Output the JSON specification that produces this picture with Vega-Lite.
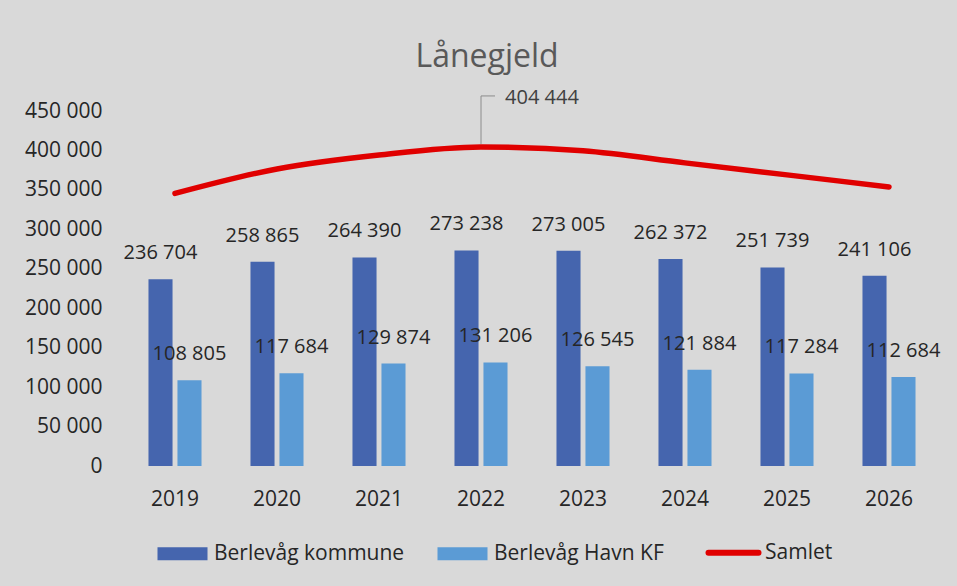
{
  "$schema": "https://vega.github.io/schema/vega-lite/v6.json",
  "width": 816,
  "height": 355,
  "autosize": {"type": "none"},
  "padding": {"left": 124, "top": 111, "right": 17, "bottom": 120},
  "background": "#d9d9d9",
  "config": {
    "view": {"stroke": null},
    "font": "Open Sans",
    "locale": {"number": {"decimal": ",", "thousands": " ", "grouping": [3], "currency": ["", ""]}}
  },
  "title": {
    "text": "Lånegjeld",
    "font": "Open Sans",
    "fontSize": 32,
    "fontWeight": "normal",
    "color": "#595959",
    "anchor": "middle",
    "frame": "group",
    "baseline": "alphabetic",
    "offset": -11,
    "dx": -45
  },
  "datasets": {
    "bars": [
      {"year": "2019", "series": "Berlevåg kommune", "value": 236704},
      {"year": "2019", "series": "Berlevåg Havn KF", "value": 108805},
      {"year": "2020", "series": "Berlevåg kommune", "value": 258865},
      {"year": "2020", "series": "Berlevåg Havn KF", "value": 117684},
      {"year": "2021", "series": "Berlevåg kommune", "value": 264390},
      {"year": "2021", "series": "Berlevåg Havn KF", "value": 129874},
      {"year": "2022", "series": "Berlevåg kommune", "value": 273238},
      {"year": "2022", "series": "Berlevåg Havn KF", "value": 131206},
      {"year": "2023", "series": "Berlevåg kommune", "value": 273005},
      {"year": "2023", "series": "Berlevåg Havn KF", "value": 126545},
      {"year": "2024", "series": "Berlevåg kommune", "value": 262372},
      {"year": "2024", "series": "Berlevåg Havn KF", "value": 121884},
      {"year": "2025", "series": "Berlevåg kommune", "value": 251739},
      {"year": "2025", "series": "Berlevåg Havn KF", "value": 117284},
      {"year": "2026", "series": "Berlevåg kommune", "value": 241106},
      {"year": "2026", "series": "Berlevåg Havn KF", "value": 112684}
    ],
    "totals": [
      {"year": "2019", "value": 345509},
      {"year": "2020", "value": 376549},
      {"year": "2021", "value": 394264},
      {"year": "2022", "value": 404444},
      {"year": "2023", "value": 399550},
      {"year": "2024", "value": 384256},
      {"year": "2025", "value": 369023},
      {"year": "2026", "value": 353790}
    ]
  },
  "encoding": {
    "x": {
      "field": "year",
      "type": "nominal",
      "scale": {"paddingInner": 0.48, "paddingOuter": 0.24},
      "axis": {
        "title": null,
        "labelAngle": 0,
        "ticks": false,
        "domain": false,
        "labelPadding": 22,
        "labelFontSize": 21,
        "labelColor": "#262626",
        "labelFont": "Open Sans"
      }
    },
    "y": {
      "field": "value",
      "type": "quantitative",
      "scale": {"domain": [0, 450000], "nice": false},
      "axis": {
        "title": null,
        "ticks": false,
        "domain": false,
        "grid": false,
        "labelPadding": 22,
        "labelFontSize": 21,
        "labelColor": "#262626",
        "labelFont": "Open Sans",
        "labelOverlap": false,
        "values": [0, 50000, 100000, 150000, 200000, 250000, 300000, 350000, 400000, 450000],
        "format": ",.0f"
      }
    }
  },
  "layer": [
    {
      "data": {"name": "bars"},
      "mark": {"type": "bar"},
      "encoding": {
        "xOffset": {
          "field": "series",
          "type": "nominal",
          "sort": ["Berlevåg kommune", "Berlevåg Havn KF"],
          "scale": {"paddingInner": 0.17, "paddingOuter": 0}
        },
        "color": {
          "field": "series",
          "type": "nominal",
          "scale": {
            "domain": ["Berlevåg kommune", "Berlevåg Havn KF", "Samlet"],
            "range": ["#4565ae", "#5b9bd5", "#e00000"]
          },
          "legend": {
            "orient": "none",
            "legendX": 48,
            "legendY": 431,
            "direction": "horizontal",
            "title": null,
            "padding": 0,
            "labelFontSize": 21,
            "labelFont": "Open Sans",
            "labelColor": "#262626",
            "labelLimit": 0,
            "labelOffset": 21,
            "columnPadding": 32,
            "symbolType": "M-1,-0.26L1,-0.26L1,0.26L-1,0.26Z",
            "symbolSize": 2500,
            "encode": {
              "symbols": {
                "update": {
                  "shape": {"signal": "datum.value === 'Samlet' ? 'M-1,0L1,0' : 'M-1,-0.26L1,-0.26L1,0.26L-1,0.26Z'"},
                  "fill": {"signal": "datum.value === 'Samlet' ? 'transparent' : scale('color', datum.value)"},
                  "stroke": {"signal": "datum.value === 'Samlet' ? '#e00000' : 'transparent'"},
                  "strokeWidth": {"signal": "datum.value === 'Samlet' ? 6 : 0"},
                  "strokeCap": {"value": "round"},
                  "opacity": {"value": 1},
                  "fillOpacity": {"value": 1},
                  "strokeOpacity": {"value": 1}
                }
              }
            }
          }
        }
      }
    },
    {
      "data": {"name": "bars"},
      "mark": {"type": "text", "dy": -26, "baseline": "middle", "fontSize": 20, "font": "Open Sans", "color": "#262626"},
      "encoding": {
        "xOffset": {"field": "series", "type": "nominal", "sort": ["Berlevåg kommune", "Berlevåg Havn KF"]},
        "text": {"field": "value", "type": "quantitative", "format": ",.0f"}
      }
    },
    {
      "data": {"name": "totals"},
      "mark": {"type": "line", "interpolate": "monotone", "strokeWidth": 5.5, "strokeCap": "round"},
      "encoding": {
        "color": {"datum": "Samlet", "type": "nominal"}
      }
    },
    {
      "data": {"name": "totals"},
      "transform": [{"filter": "datum.year == '2022'"}],
      "mark": {"type": "rule", "color": "#8c8c8c", "strokeWidth": 1, "yOffset": -3, "y2Offset": -51},
      "encoding": {
        "y2": {"field": "value"}
      }
    },
    {
      "data": {"name": "totals"},
      "transform": [{"filter": "datum.year == '2022'"}],
      "mark": {"type": "rule", "color": "#8c8c8c", "strokeWidth": 1, "yOffset": -51, "x2Offset": 14},
      "encoding": {
        "x2": {"field": "year"}
      }
    },
    {
      "data": {"name": "totals"},
      "transform": [{"filter": "datum.year == '2022'"}],
      "mark": {"type": "text", "dx": 61, "dy": -49, "baseline": "middle", "fontSize": 20, "font": "Open Sans", "color": "#404040"},
      "encoding": {
        "text": {"field": "value", "type": "quantitative", "format": ",.0f"}
      }
    }
  ]
}
